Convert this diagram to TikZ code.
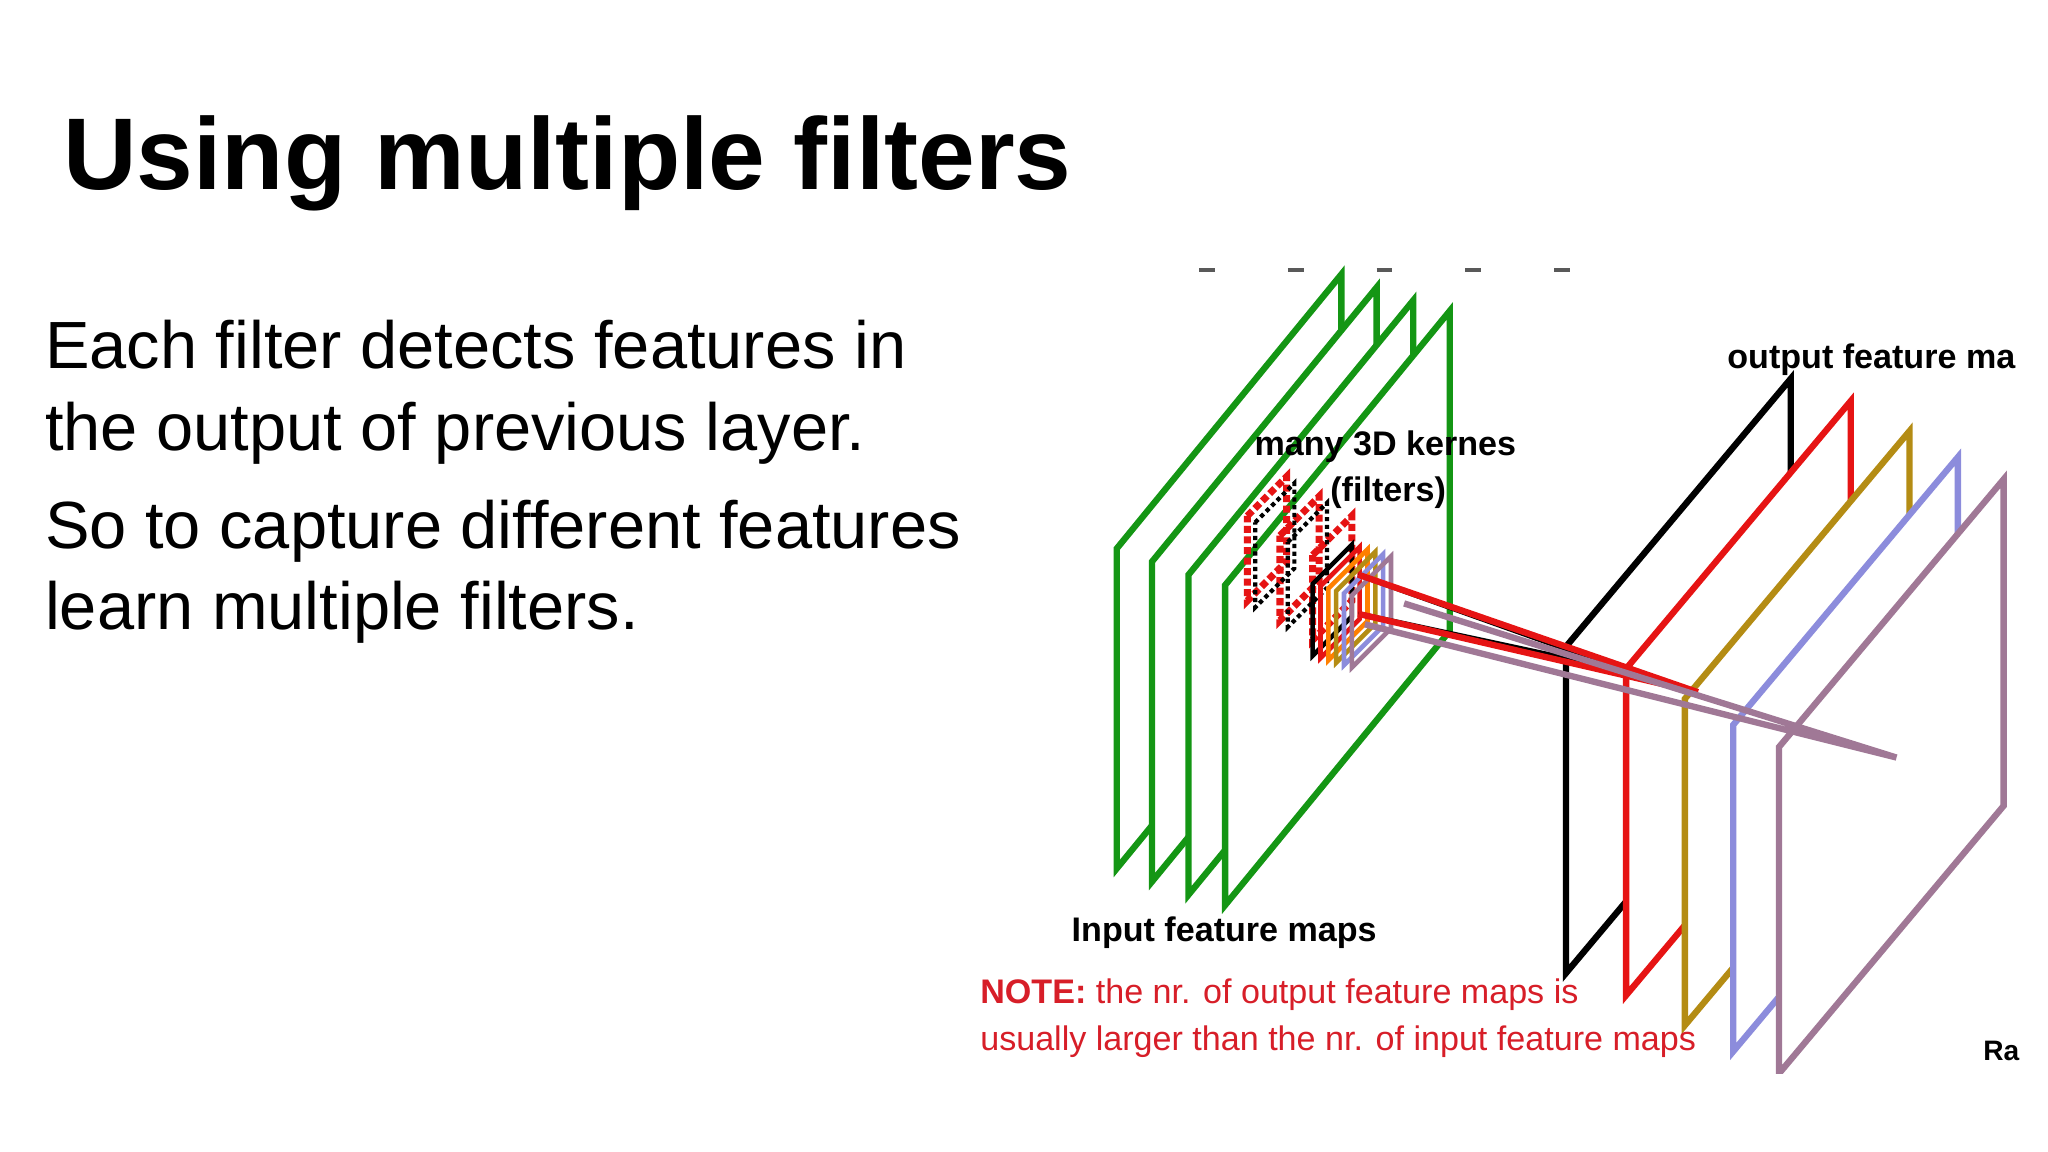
\documentclass[tikz,border=0pt]{standalone}
\usepackage{fontspec}
\setmainfont{Liberation Sans}
\definecolor{gr}{RGB}{20,150,20}
\definecolor{rd}{RGB}{230,20,20}
\definecolor{gd}{RGB}{180,140,20}
\definecolor{bl}{RGB}{140,140,220}
\definecolor{pu}{RGB}{160,120,150}
\definecolor{nt}{RGB}{215,30,40}
\begin{document}
\begin{tikzpicture}[x=0.01306cm,y=-0.01306cm,
  frame/.style={line width=1.8pt,fill=white,line join=miter},
  lbl/.style={font=\bfseries\fontsize{9.7}{11}\selectfont,inner sep=0,anchor=base west},
  body/.style={font=\fontsize{19}{22}\selectfont,inner sep=0,anchor=base west}]
\useasboundingbox (0,0) rectangle (1568,882);
\node[inner sep=0,anchor=base west,font=\bfseries\fontsize{29}{33}\selectfont] (title) at (48,145) {Using multiple filters};
\node[body] (b1) at (34,282) {Each filter detects features in};
\node[body] (b2) at (34,345) {the output of previous layer.};
\node[body] (b3) at (34,420) {So to capture different features};
\node[body] (b4) at (34,482) {learn multiple filters.};
\begin{scope}
\clip (740,200) rectangle (1552,822);
\foreach \i in {0,...,4} \draw[line width=1.2pt,gray!70!black] (918+\i*68,207) -- ++(12,0);
% input maps
\foreach \x/\yt in {855/420,882/430,910/440,938/448}
  \draw[frame,draw=gr] (\x,\yt) -- (\x+172,\yt-210) -- (\x+172,\yt+35) -- (\x,\yt+245) -- cycle;
% dotted kernels
\foreach \dx/\dy in {0/0,25/15,50/30}
  \draw[rd,densely dotted,line width=2pt] (955+\dx,395+\dy) -- (985+\dx,365+\dy) -- (985+\dx,430+\dy) -- (955+\dx,460+\dy) -- cycle;
\foreach \dx/\dy in {6/0,31/15}
  \draw[black,densely dotted,line width=1.2pt] (955+\dx,400+\dy) -- (985+\dx,370+\dy) -- (985+\dx,435+\dy) -- (955+\dx,465+\dy) -- cycle;
% small kernels
\foreach \c/\dx in {black/0,rd/6,orange/12,gd/18,bl/24,pu/30}
  \draw[\c,line width=1.3pt] (1005+\dx,447+\dx*0.3) -- (1035+\dx,417+\dx*0.3) -- (1035+\dx,472+\dx*0.3) -- (1005+\dx,502+\dx*0.3) -- cycle;
% output maps
\foreach \x/\yt/\c in {1199/495/black,1245/512/rd,1290/535/gd,1327/555/bl,1362/572/pu}
  \draw[frame,draw=\c] (\x,\yt) -- (\x+172,\yt-205) -- (\x+172,\yt+45) -- (\x,\yt+250) -- cycle;
\coordinate (k1) at (1040,440);
\coordinate (k2) at (1040,470);
\coordinate (t1) at (1250,515);
\coordinate (t2) at (1300,530);
\coordinate (t3) at (1452,580);
\draw[black,line width=1.5pt] (k1) -- (t1) (k2) -- (t1);
\draw[rd,line width=1.8pt] (k1) -- (t2) (k2) -- (t2);
\draw[pu,line width=1.8pt] (1075,462) -- (t3) (1045,478) -- (t3);
\end{scope}
\node[lbl] (out) at (1322,282) {output feature ma};
\node[lbl,font=\bfseries\fontsize{8}{9}\selectfont] (ra) at (1518,812) {Ra};
\node[lbl] (many) at (960,349) {many 3D kernes};
\node[lbl] (filt) at (1018,384) {(filters)};
\node[lbl] (in) at (820,721) {Input feature maps};
\node[lbl,text=nt,font=\fontsize{9.7}{11}\selectfont] (n1) at (750,768) {\textbf{NOTE:} the nr. of output feature maps is};
\node[lbl,text=nt,font=\fontsize{9.7}{11}\selectfont] (n2) at (750,804) {usually larger than the nr. of input feature maps};
\end{tikzpicture}
\end{document}
